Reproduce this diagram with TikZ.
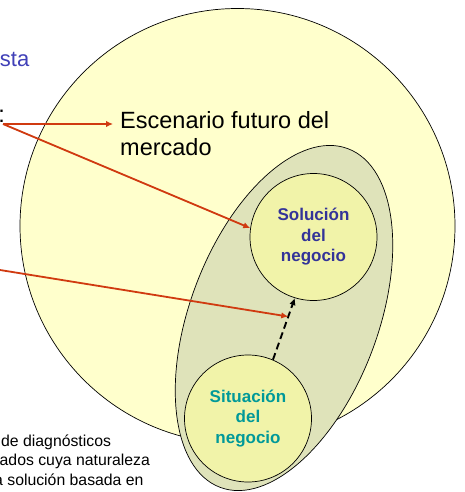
\documentclass[tikz,border=0pt]{standalone}
\usepackage{fontspec}
\setmainfont{Liberation Sans}
\usetikzlibrary{arrows.meta,calc,shapes.geometric}
\definecolor{bigyellow}{HTML}{FFFFCC}
\definecolor{ellgreen}{HTML}{DFE3BA}
\definecolor{innerfill}{HTML}{F1F3A9}
\definecolor{redline}{HTML}{D03A10}
\definecolor{solblue}{HTML}{333399}
\definecolor{sitteal}{HTML}{009999}
\definecolor{titleblue}{HTML}{4040B8}
\tikzset{
  outline/.style={draw=black, line width=0.7pt},
  innercircle/.style={outline, circle, fill=innerfill, minimum size=127pt, inner sep=0pt,
    align=center, font=\fontsize{17}{20.5}\selectfont\bfseries},
  redarrow/.style={draw=redline, line width=1.8pt, -{Latex[length=7pt,width=6.5pt]}},
  dasharrow/.style={draw=black, line width=1.9pt, dash pattern=on 7pt off 4pt, -{Latex[length=7pt,width=6.5pt]}},
  smalltext/.style={inner sep=0pt, anchor=base west, font=\fontsize{15.8}{19.3}\selectfont},
}
\begin{document}
\begin{tikzpicture}[x=1pt,y=-1pt]
\useasboundingbox (0,0) rectangle (464,492);
\fill[white] (0,0) rectangle (464,492);
% big circle: market
\node[outline, circle, fill=bigyellow, minimum size=435pt, inner sep=0pt] (market) at (237.5,226) {};
% ellipse
\node[outline, ellipse, fill=ellgreen, minimum width=188pt, minimum height=362pt, inner sep=0pt, rotate=-20.7] (ell) at (284,318) {};
% inner circles
\node[innercircle, text=solblue] (sol) at (313.5,237) {Solución\\del\\negocio};
\node[innercircle, text=sitteal] (sit) at (248,418.5) {Situación\\del\\negocio};
% texts
\node[inner sep=0pt, anchor=north west, align=left, font=\fontsize{23.5}{27}\selectfont] (escen) at (120,111.5) {Escenario futuro del\\mercado};
\node[inner sep=0pt, anchor=base east, text=titleblue, font=\fontsize{22}{26}\selectfont] (title) at (29.5,67) {sta};
\node[inner sep=0pt, anchor=base east, font=\fontsize{23.5}{27}\selectfont] (colon) at (5,123) {:};
\node[smalltext] (l1) at (1,446) {de diagnósticos};
\node[smalltext] (l2) at (-0.5,465.7) {ados cuya naturaleza};
\node[smalltext] (l3) at (-6,485) {a solución basada en};
% connectors
\coordinate (src) at (3,124);
\coordinate (src2) at (0,270);
\draw[dasharrow] (sit.67) -- (sol.253);
\coordinate (hit) at ($(sit.67)!0.7!(sol.253)$);
\draw[redarrow, shorten >=7pt] (src) -- (escen.west |- src);
\draw[redarrow] (src) -- (sol.172);
\draw[redarrow] (src2) -- (hit);
\end{tikzpicture}
\end{document}
